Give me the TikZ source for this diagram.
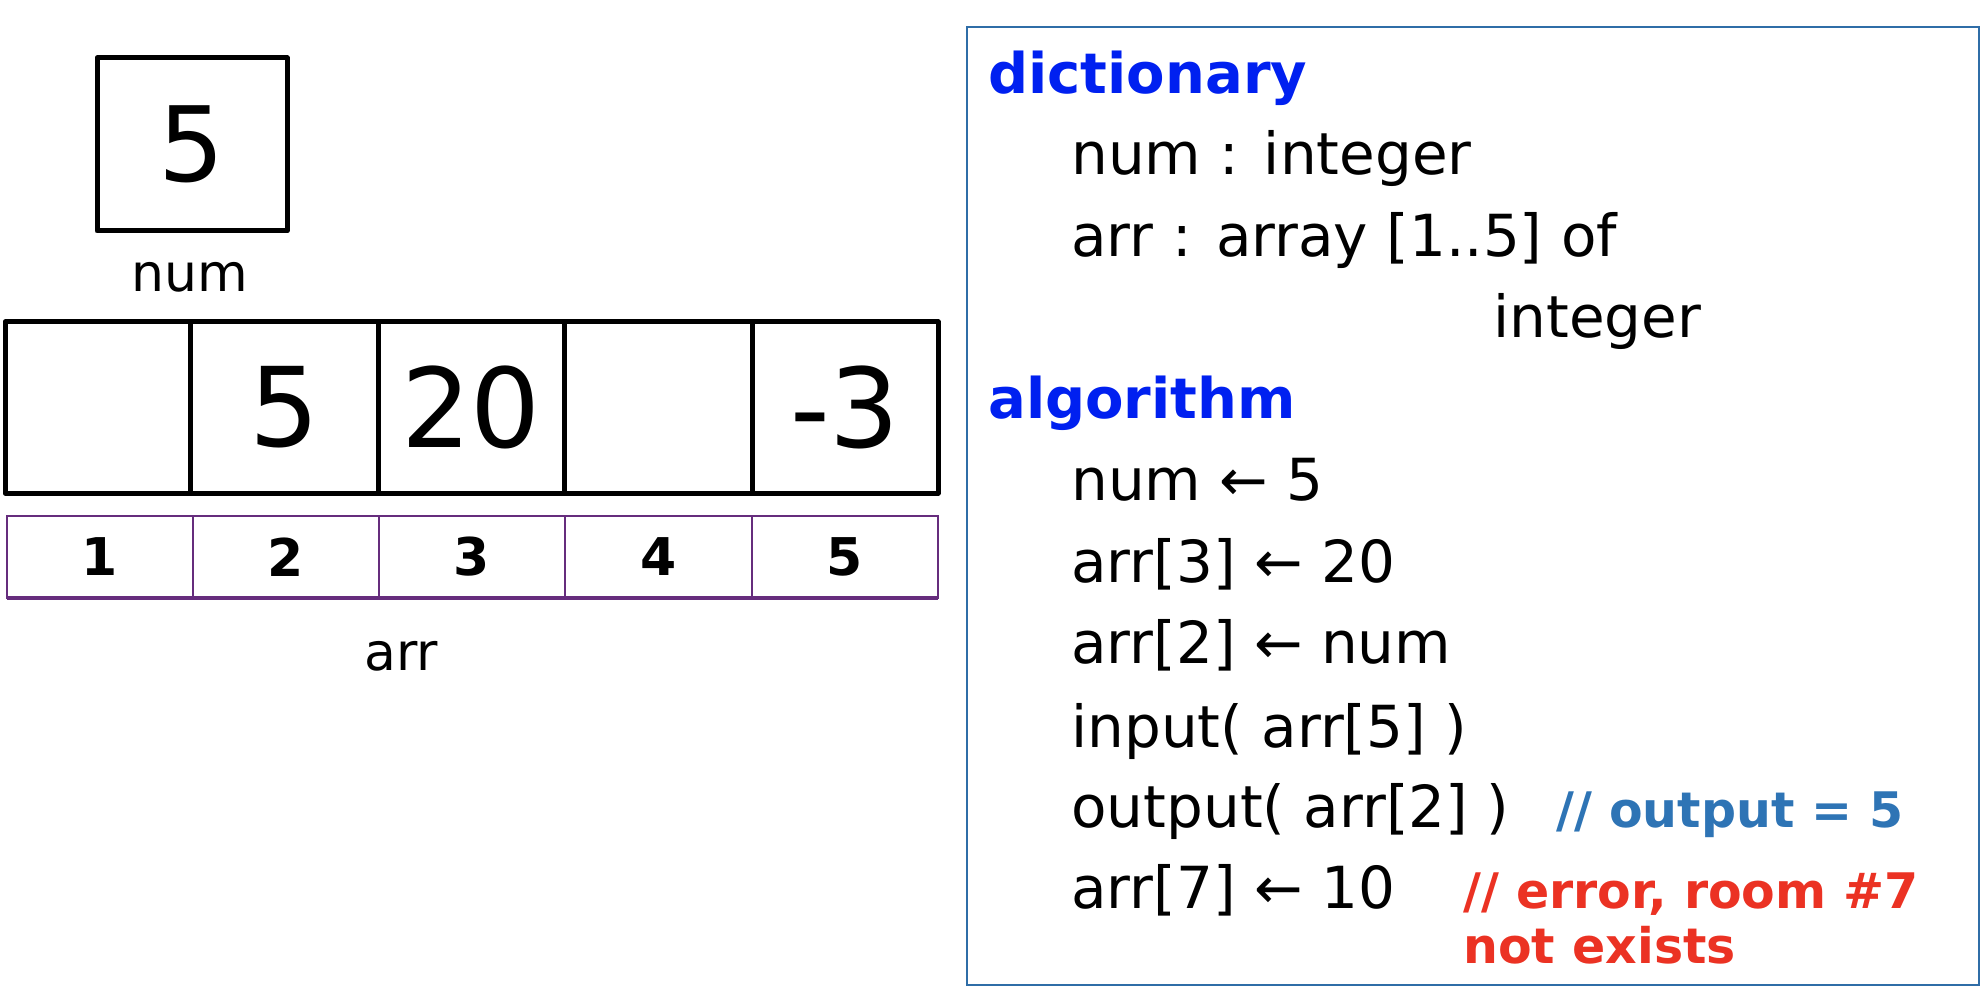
\documentclass[tikz,border=0pt]{standalone}
\usepackage{fontspec}
\setmainfont{DejaVu Sans}
\definecolor{headblue}{RGB}{0,32,240}
\definecolor{noteblue}{RGB}{46,116,181}
\definecolor{notered}{RGB}{235,50,35}
\definecolor{frameblue}{RGB}{47,109,167}
\definecolor{idxpurple}{RGB}{102,45,125}
\newcommand{\valfont}{\fontsize{55}{55}\selectfont}
\newcommand{\numfont}{\fontsize{52}{52}\selectfont}
\newcommand{\idxfont}{\fontsize{26}{26}\selectfont\bfseries}
\newcommand{\lblfont}{\fontsize{26}{26}\selectfont}
\newcommand{\codefont}{\fontsize{29}{29}\selectfont}
\newcommand{\headfont}{\fontsize{28}{28}\selectfont\bfseries}
\newcommand{\notefont}{\fontsize{24.5}{24.5}\selectfont\bfseries}
\tikzset{
  cell/.style={draw=black, line width=2.5pt, line join=round},
  idxcell/.style={draw=idxpurple, line width=1pt},
  code/.style={anchor=base west, inner sep=0pt, font=\codefont},
  head/.style={anchor=base west, inner sep=0pt, font=\headfont, text=headblue},
  note/.style={anchor=base west, inner sep=0pt, font=\notefont},
}
\begin{document}
\begin{tikzpicture}[x=0.5pt,y=-0.5pt]
        \useasboundingbox (0,0) rectangle (1988,1000);

        % variable num
        \draw[cell] (97,58) rectangle (287,231) node[pos=.5, font=\numfont] (numval) {5};
        \node[anchor=base, inner sep=0pt, font=\lblfont] (numlbl) at (190,292) {num};

        % array arr
        \draw[cell] (5,322) rectangle (190,493) node[pos=.5, font=\valfont] (v1) {}; %arr[1]
        \draw[cell] (190,322) rectangle (378,493) node[pos=.5, font=\valfont] (v2) {5}; %arr[2]
        \draw[cell] (378,322) rectangle (564,493) node[pos=.5, font=\valfont] (v3) {20}; %arr[3]
        \draw[cell] (564,322) rectangle (752,493) node[pos=.5, font=\valfont] (v4) {}; %arr[4]
        \draw[cell] (752,322) rectangle (938,493) node[pos=.5, font=\valfont] (v5) {-3}; %arr[5]

        % indices
        \draw[idxcell] (7,516) rectangle (193,598) node[pos=.5, font=\idxfont] (i1) {1};
        \draw[idxcell] (193,516) rectangle (379,598) node[pos=.5, font=\idxfont] (i2) {2};
        \draw[idxcell] (379,516) rectangle (565,598) node[pos=.5, font=\idxfont] (i3) {3};
        \draw[idxcell] (565,516) rectangle (752,598) node[pos=.5, font=\idxfont] (i4) {4};
        \draw[idxcell] (752,516) rectangle (938,598) node[pos=.5, font=\idxfont] (i5) {5};
        \draw[idxpurple, line width=2pt] (7,598) -- (938,598);

        \node[anchor=base, inner sep=0pt, font=\lblfont] (arrlbl) at (401,670) {arr};

        % pseudocode box
        \draw[frameblue, line width=1pt] (967,27) rectangle (1979,985);

        \node[head] (dict) at (988,94) {dictionary};
        \node[code] (d1) at (1071,175) {num : integer};
        \node[code] (d2) at (1071,257) {arr : array [1..5] of};
        \node[code] (d3) at (1493,338) {integer};

        \node[head] (algo) at (988,418) {algorithm};
        \node[code] (a1) at (1071,500) {num ← 5};
        \node[code] (a2) at (1071,582) {arr[3] ← 20};
        \node[code] (a3) at (1071,663) {arr[2] ← num};
        \node[code] (a4) at (1071,747) {input( arr[5] )};
        \node[code] (a5) at (1071,827) {output( arr[2] )};
        \node[note, text=noteblue] (n1) at (1556,827) {// output = 5};
        \node[code] (a6) at (1071,908) {arr[7] ← 10};
        \node[note, text=notered] (n2) at (1463,908) {// error, room \#7};
        \node[note, text=notered] (n3) at (1463,963) {not exists};
    \end{tikzpicture}
\end{document}
